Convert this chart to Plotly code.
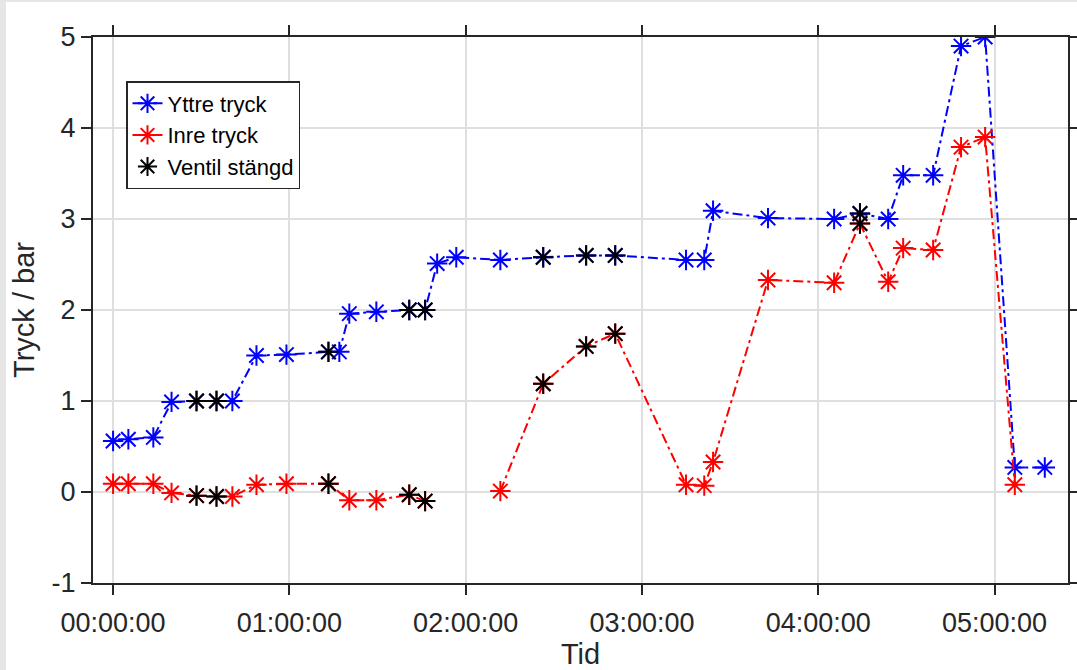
import plotly.graph_objects as go

BASE = "2020-01-01 "

# Yttre tryck (outer pressure)
yttre_tid = ["00:00:00", "00:05:12", "00:13:42", "00:19:54", "00:28:24", "00:35:12", "00:40:36",
             "00:48:48", "00:59:00", "01:13:18", "01:17:00", "01:20:24", "01:29:36", "01:40:48",
             "01:46:12", "01:50:18", "01:56:48", "02:11:48", "02:26:24", "02:41:00", "02:50:54",
             "03:15:00", "03:21:12", "03:24:12", "03:42:54", "04:05:24", "04:14:12", "04:23:48",
             "04:28:54", "04:39:06", "04:48:36", "04:56:48", "05:06:54", "05:17:06"]
yttre_tryck = [0.56, 0.58, 0.60, 0.99, 1.00, 1.00, 1.00,
               1.50, 1.51, 1.54, 1.54, 1.96, 1.98, 2.00,
               2.00, 2.51, 2.58, 2.55, 2.58, 2.60, 2.60,
               2.55, 2.55, 3.09, 3.01, 3.00, 3.06, 3.00,
               3.48, 3.48, 4.90, 5.00, 0.27, 0.27]

# Inre tryck (inner pressure); None = gap in measurement line
inre_tid = ["00:00:00", "00:05:12", "00:13:42", "00:19:54", "00:28:24", "00:35:12", "00:40:36",
            "00:48:48", "00:59:00", "01:13:18", "01:20:24", "01:29:36", "01:40:48", "01:46:12",
            "01:50:18", "02:11:48", "02:26:24", "02:41:00", "02:50:54", "03:15:00", "03:21:12",
            "03:24:12", "03:42:54", "04:05:24", "04:14:12", "04:23:48", "04:28:54", "04:39:06",
            "04:48:36", "04:56:48", "05:06:54"]
inre_tryck = [0.09, 0.09, 0.09, -0.01, -0.04, -0.05, -0.05,
              0.08, 0.09, 0.09, -0.09, -0.09, -0.03, -0.10,
              None, 0.01, 1.19, 1.60, 1.74, 0.08, 0.07,
              0.33, 2.33, 2.30, 2.95, 2.31, 2.68, 2.66,
              3.79, 3.90, 0.08]

# Ventil stängd (valve closed) markers
ventil_tid = ["00:28:24", "00:35:12", "01:13:18", "01:40:48", "01:46:12", "02:26:24", "02:41:00",
              "02:50:54", "04:14:12",
              "00:28:24", "00:35:12", "01:13:18", "01:40:48", "01:46:12", "02:26:24", "02:41:00",
              "02:50:54", "04:14:12"]
ventil_tryck = [1.00, 1.00, 1.54, 2.00, 2.00, 2.58, 2.60, 2.60, 3.06,
                -0.04, -0.05, 0.09, -0.03, -0.10, 1.19, 1.60, 1.74, 2.95]

x_tick_labels = ["00:00:00", "01:00:00", "02:00:00", "03:00:00", "04:00:00", "05:00:00"]
y_tick_vals = [-1, 0, 1, 2, 3, 4, 5]
y_tick_labels = ["-1", "0", "1", "2", "3", "4", "5"]

FONT = "Liberation Sans, Arial, sans-serif"
AX = "#262626"
DASH = "10px,4px,3px,4px"

def ts(lst):
    return [BASE + t for t in lst]

fig = go.Figure()
fig.add_trace(go.Scatter(
    x=ts(yttre_tid), y=yttre_tryck, name="Yttre tryck", mode="lines+markers",
    line=dict(color="#0000ff", width=2, dash=DASH),
    marker=dict(symbol="asterisk-open", size=17, line=dict(color="#0000ff", width=2)),
))
fig.add_trace(go.Scatter(
    x=ts(inre_tid), y=inre_tryck, name="Inre tryck", mode="lines+markers",
    line=dict(color="#ff0000", width=2, dash=DASH),
    marker=dict(symbol="asterisk-open", size=17, line=dict(color="#ff0000", width=2)),
    connectgaps=False,
))
fig.add_trace(go.Scatter(
    x=ts(ventil_tid), y=ventil_tryck, name="Ventil stängd", mode="markers",
    marker=dict(symbol="asterisk-open", size=17, color="#000000", line=dict(color="#000000", width=2)),
))

W, H = 1077, 670
L, R, T, B = 93, 9, 37, 87
pw, ph = W - L - R, H - T - B

fig.update_layout(
    width=W, height=H,
    margin=dict(l=L, r=R, t=T, b=B, pad=0, autoexpand=False),
    paper_bgcolor="white", plot_bgcolor="white",
    font=dict(family=FONT, size=27, color=AX),
    showlegend=True,
    legend=dict(
        x=(126 - L) / pw, y=(H - B - 81) / ph, xanchor="left", yanchor="top",
        bgcolor="white", bordercolor=AX, borderwidth=1.5,
        font=dict(family=FONT, size=22, color="#000000"),
        itemwidth=30, tracegroupgap=0,
    ),
    xaxis=dict(
        type="date", automargin=False,
        range=["2019-12-31 23:53:10", BASE + "05:25:00"],
        tickmode="array",
        tickvals=ts(x_tick_labels), ticktext=x_tick_labels,
        showgrid=True, gridcolor="#dfdfdf", gridwidth=1.5,
        showline=True, linecolor=AX, linewidth=2, mirror="ticks",
        ticks="outside", ticklen=10, tickwidth=2, tickcolor=AX,
        tickfont=dict(size=27, color=AX), ticklabelstandoff=5,
        title=dict(text="Tid", font=dict(size=29, color=AX), standoff=9),
        zeroline=False,
    ),
    yaxis=dict(
        range=[-1, 5], automargin=False,
        tickmode="array", tickvals=y_tick_vals, ticktext=y_tick_labels,
        showgrid=True, gridcolor="#dfdfdf", gridwidth=1.5,
        showline=True, linecolor=AX, linewidth=2, mirror="ticks",
        ticks="outside", ticklen=10, tickwidth=2, tickcolor=AX,
        tickfont=dict(size=27, color=AX),
        title=dict(text="Tryck / bar", font=dict(size=29, color=AX), standoff=8),
        zeroline=False,
    ),
    shapes=[
        dict(type="rect", xref="paper", yref="paper",
             x0=-L / pw, x1=(-L + 6) / pw, y0=-B / ph, y1=(H - B) / ph,
             fillcolor="#e6e6e6", line=dict(width=0), layer="below"),
        dict(type="rect", xref="paper", yref="paper",
             x0=-L / pw, x1=(W - L) / pw, y0=(H - B - 2) / ph, y1=(H - B) / ph,
             fillcolor="#e6e6e6", line=dict(width=0), layer="below"),
    ],
)

fig.write_html(
    "out.html",
    config={"displayModeBar": False},
    post_script="document.body.style.margin='0px';document.body.style.overflow='hidden';",
)
